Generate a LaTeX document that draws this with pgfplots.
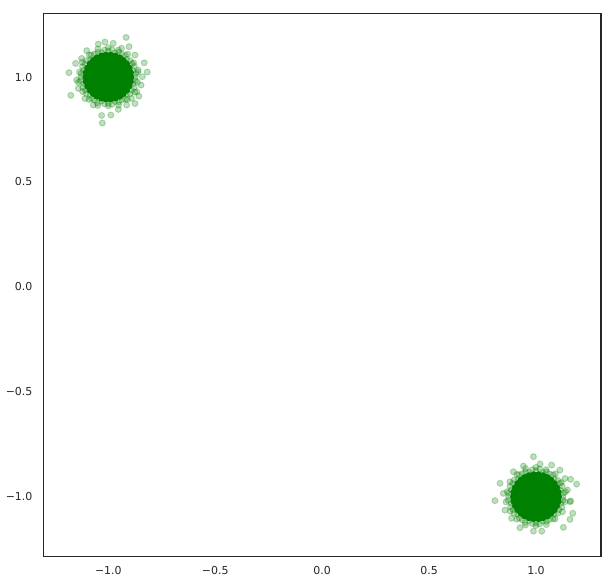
\documentclass[border=0pt]{standalone}
\usepackage{fontspec}
\setmainfont{DejaVu Sans}
\usepackage{pgfplots}
\pgfplotsset{compat=1.18}
\definecolor{mplgreen}{RGB}{0,128,0}
\definecolor{darkgray}{RGB}{38,38,38}
\begin{document}
\begin{tikzpicture}
\useasboundingbox (-43.3bp,-26.7bp) rectangle (570.7bp,556.3bp);
\begin{axis}[
  scale only axis, width=557.7bp, height=543bp,
  xmin=-1.304, xmax=1.304, ymin=-1.284, ymax=1.304,
  xtick={-1,-0.5,0,0.5,1}, xticklabels={−1.0,−0.5,0.0,0.5,1.0},
  ytick={-1,-0.5,0,0.5,1}, yticklabels={−1.0,−0.5,0.0,0.5,1.0},
  major tick length=0pt,
  axis line style={draw=darkgray, line width=1.25bp},
  tick label style={font=\fontsize{11}{13}\selectfont, text=darkgray},
  xticklabel style={inner sep=0pt, anchor=north, yshift=-9.7bp},
  yticklabel style={inner sep=0pt, anchor=east, xshift=-10.7bp},
]
% dense cores
\addplot[only marks, mark=*, mark size=3bp, color=mplgreen, mark options={line width=1bp}] coordinates {
(-1.100,1.000) (-1.075,1.000) (-1.050,1.000) (-1.025,1.000) (-1.000,1.000) (-0.975,1.000) (-0.950,1.000) (-0.925,1.000) (-0.900,1.000)
(-1.0875,1.022) (-1.0625,1.022) (-1.0375,1.022) (-1.0125,1.022) (-0.9875,1.022) (-0.9625,1.022) (-0.9375,1.022) (-0.9125,1.022)
(-1.0875,0.978) (-1.0625,0.978) (-1.0375,0.978) (-1.0125,0.978) (-0.9875,0.978) (-0.9625,0.978) (-0.9375,0.978) (-0.9125,0.978)
(-1.075,1.044) (-1.050,1.044) (-1.025,1.044) (-1.000,1.044) (-0.975,1.044) (-0.950,1.044) (-0.925,1.044)
(-1.075,0.956) (-1.050,0.956) (-1.025,0.956) (-1.000,0.956) (-0.975,0.956) (-0.950,0.956) (-0.925,0.956)
(-1.0625,1.066) (-1.0375,1.066) (-1.0125,1.066) (-0.9875,1.066) (-0.9625,1.066) (-0.9375,1.066)
(-1.0625,0.934) (-1.0375,0.934) (-1.0125,0.934) (-0.9875,0.934) (-0.9625,0.934) (-0.9375,0.934)
(-1.050,1.088) (-1.025,1.088) (-1.000,1.088) (-0.975,1.088) (-0.950,1.088)
(-1.050,0.912) (-1.025,0.912) (-1.000,0.912) (-0.975,0.912) (-0.950,0.912)
(-0.895,1.000) (-0.897,1.022) (-0.904,1.043) (-0.915,1.062) (-0.930,1.078) (-0.947,1.091) (-0.968,1.100) (-0.989,1.104)
(-1.011,1.104) (-1.032,1.100) (-1.053,1.091) (-1.070,1.078) (-1.085,1.062) (-1.096,1.043) (-1.103,1.022) (-1.105,1.000)
(-1.103,0.978) (-1.096,0.957) (-1.085,0.938) (-1.070,0.922) (-1.053,0.909) (-1.032,0.900) (-1.011,0.896) (-0.989,0.896)
(-0.968,0.900) (-0.947,0.909) (-0.930,0.922) (-0.915,0.938) (-0.904,0.957) (-0.897,0.978)
(0.900,-1.000) (0.925,-1.000) (0.950,-1.000) (0.975,-1.000) (1.000,-1.000) (1.025,-1.000) (1.050,-1.000) (1.075,-1.000) (1.100,-1.000)
(0.9125,-0.978) (0.9375,-0.978) (0.9625,-0.978) (0.9875,-0.978) (1.0125,-0.978) (1.0375,-0.978) (1.0625,-0.978) (1.0875,-0.978)
(0.9125,-1.022) (0.9375,-1.022) (0.9625,-1.022) (0.9875,-1.022) (1.0125,-1.022) (1.0375,-1.022) (1.0625,-1.022) (1.0875,-1.022)
(0.925,-0.956) (0.950,-0.956) (0.975,-0.956) (1.000,-0.956) (1.025,-0.956) (1.050,-0.956) (1.075,-0.956)
(0.925,-1.044) (0.950,-1.044) (0.975,-1.044) (1.000,-1.044) (1.025,-1.044) (1.050,-1.044) (1.075,-1.044)
(0.9375,-0.934) (0.9625,-0.934) (0.9875,-0.934) (1.0125,-0.934) (1.0375,-0.934) (1.0625,-0.934)
(0.9375,-1.066) (0.9625,-1.066) (0.9875,-1.066) (1.0125,-1.066) (1.0375,-1.066) (1.0625,-1.066)
(0.950,-0.912) (0.975,-0.912) (1.000,-0.912) (1.025,-0.912) (1.050,-0.912)
(0.950,-1.088) (0.975,-1.088) (1.000,-1.088) (1.025,-1.088) (1.050,-1.088)
(1.105,-1.000) (1.103,-0.978) (1.096,-0.957) (1.085,-0.938) (1.070,-0.922) (1.053,-0.909) (1.032,-0.900) (1.011,-0.896)
(0.989,-0.896) (0.968,-0.900) (0.947,-0.909) (0.930,-0.922) (0.915,-0.938) (0.904,-0.957) (0.897,-0.978) (0.895,-1.000)
(0.897,-1.022) (0.904,-1.043) (0.915,-1.062) (0.930,-1.078) (0.947,-1.091) (0.968,-1.100) (0.989,-1.104) (1.011,-1.104)
(1.032,-1.100) (1.053,-1.091) (1.070,-1.078) (1.085,-1.062) (1.096,-1.043) (1.103,-1.022)
};
% translucent fringe and outliers
\addplot[only marks, mark=*, mark size=3bp, color=mplgreen, mark options={line width=1bp, fill opacity=0.25, draw opacity=0.25}] coordinates {
(-0.875,1.000) (-0.886,1.031) (-0.889,1.064) (-0.915,1.085) (-0.937,1.109) (-0.969,1.115) (-1.000,1.124) (-1.031,1.116)
(-1.064,1.110) (-1.083,1.083) (-1.108,1.063) (-1.116,1.031) (-1.128,1.000) (-1.115,0.969) (-1.107,0.938) (-1.085,0.915)
(-1.064,0.890) (-1.031,0.886) (-1.000,0.875) (-0.969,0.884) (-0.937,0.891) (-0.916,0.916) (-0.893,0.938) (-0.884,0.969)
(-0.871,1.017) (-0.878,1.051) (-0.898,1.078) (-0.920,1.104) (-0.951,1.119) (-0.983,1.132) (-1.017,1.129) (-1.049,1.118)
(-1.080,1.105) (-1.102,1.079) (-1.121,1.050) (-1.127,1.017) (-1.131,0.983) (-1.119,0.951) (-1.103,0.921) (-1.078,0.898)
(-1.051,0.877) (-1.017,0.872) (-0.983,0.870) (-0.951,0.882) (-0.920,0.895) (-0.898,0.921) (-0.879,0.950) (-0.873,0.983)
(-0.862,1.024) (-0.882,1.068) (-0.909,1.109) (-0.953,1.129) (-1.000,1.140) (-1.049,1.134) (-1.089,1.106) (-1.122,1.071)
(-1.135,1.024) (-1.140,0.975) (-1.120,0.931) (-1.090,0.893) (-1.049,0.865) (-1.000,0.863) (-0.952,0.867) (-0.911,0.894)
(-0.876,0.928) (-0.864,0.976)
(-0.917,1.189) (-0.903,1.145) (-0.832,1.068) (-0.818,1.024) (-1.184,1.021) (-1.175,0.913) (-1.031,0.817) (-1.028,0.781)
(-0.988,0.819) (-0.875,0.874) (-0.857,0.909) (-0.841,1.002) (-0.847,0.962) (-1.016,1.167) (-1.047,1.157) (-0.977,1.161)
(-1.101,1.126) (-1.125,1.089) (-1.153,1.065) (-1.148,0.986) (-1.140,0.946) (-1.109,0.898) (-1.070,0.867) (-0.953,0.846)
(-0.914,0.867) (-0.891,0.898) (-0.867,0.930) (-0.860,1.033) (-0.875,1.105) (-0.938,1.137)
(1.125,-1.000) (1.114,-0.969) (1.111,-0.936) (1.085,-0.915) (1.063,-0.891) (1.031,-0.885) (1.000,-0.876) (0.969,-0.884)
(0.936,-0.890) (0.917,-0.917) (0.892,-0.937) (0.884,-0.969) (0.872,-1.000) (0.885,-1.031) (0.893,-1.062) (0.915,-1.085)
(0.936,-1.110) (0.969,-1.114) (1.000,-1.125) (1.031,-1.116) (1.063,-1.109) (1.084,-1.084) (1.107,-1.062) (1.116,-1.031)
(1.129,-0.983) (1.122,-0.949) (1.102,-0.922) (1.080,-0.896) (1.049,-0.881) (1.017,-0.868) (0.983,-0.871) (0.951,-0.882)
(0.920,-0.895) (0.898,-0.921) (0.879,-0.950) (0.873,-0.983) (0.869,-1.017) (0.881,-1.049) (0.897,-1.079) (0.922,-1.102)
(0.949,-1.123) (0.983,-1.128) (1.017,-1.130) (1.049,-1.118) (1.080,-1.105) (1.102,-1.079) (1.121,-1.050) (1.127,-1.017)
(1.138,-0.976) (1.118,-0.932) (1.091,-0.891) (1.047,-0.871) (1.000,-0.860) (0.951,-0.866) (0.911,-0.894) (0.878,-0.929)
(0.865,-0.976) (0.860,-1.025) (0.880,-1.069) (0.910,-1.107) (0.951,-1.135) (1.000,-1.137) (1.048,-1.133) (1.089,-1.106)
(1.124,-1.072) (1.136,-1.024)
(0.988,-0.809) (1.162,-0.917) (1.190,-0.940) (0.808,-1.019) (0.832,-0.936) (1.159,-1.024) (1.162,-1.020) (1.172,-1.079)
(1.159,-1.108) (1.128,-1.146) (0.988,-1.164) (1.027,-1.164) (0.925,-1.148) (0.886,-1.103) (0.855,-1.064) (0.847,-0.984)
(0.894,-0.881) (0.941,-0.854) (1.019,-0.844) (1.073,-0.849) (1.112,-0.873) (1.136,-0.913) (1.147,-0.968)
};
\end{axis}
\end{tikzpicture}
\end{document}
